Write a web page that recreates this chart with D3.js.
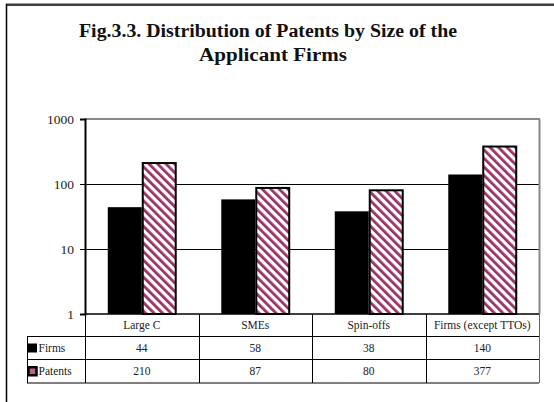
<!DOCTYPE html>
<html>
<head>
<meta charset="utf-8">
<script src="https://cdn.jsdelivr.net/npm/d3@7"></script>
<style>
body{margin:0;background:#fff;}
svg text{font-family:"Liberation Serif","DejaVu Serif",serif;}
</style>
</head>
<body>
<svg id="chart" width="554" height="402"></svg>
<script>
//values (they are also printed in the data table)
var categories = ["Large C", "SMEs", "Spin-offs", "Firms (except TTOs)"];
var seriesNames = ["Firms", "Patents"];
var firms = [44, 58, 38, 140];
var patents = [210, 87, 80, 377];
var yTicks = [1, 10, 100, 1000];

(function(){
var svg = d3.select("#chart");
var plum = "#993366";

//stripe pattern for the patents bars
var defs = svg.append("defs");
var pat = defs.append("pattern")
	.attr("id", "stripes")
	.attr("patternUnits", "userSpaceOnUse")
	.attr("width", 6).attr("height", 6)
	.attr("patternTransform", "rotate(-45)");
pat.append("rect").attr("width", 6).attr("height", 6).attr("fill", "#fff");
pat.append("rect").attr("x", 0).attr("width", 2.8).attr("height", 6).attr("fill", plum);

//frame of the chart object (cropped at right and bottom)
svg.append("line").attr("x1", 6).attr("x2", 554).attr("y1", 3.5).attr("y2", 3.5)
	.attr("stroke", "#999").attr("stroke-width", 1);
svg.append("line").attr("x1", 6).attr("x2", 554).attr("y1", 5).attr("y2", 5)
	.attr("stroke", "#000").attr("stroke-width", 1.5);
svg.append("line").attr("x1", 6.5).attr("x2", 6.5).attr("y1", 4).attr("y2", 402)
	.attr("stroke", "#000").attr("stroke-width", 1.5);

//title
var title = svg.append("text")
	.attr("text-anchor", "middle")
	.attr("font-weight", "bold")
	.attr("font-size", 18)
	.attr("fill", "#111");
title.append("tspan").attr("x", 268).attr("y", 37)
	.attr("textLength", 378).attr("lengthAdjust", "spacingAndGlyphs")
	.text("Fig.3.3. Distribution of Patents by Size of the");
title.append("tspan").attr("x", 273).attr("y", 61)
	.attr("textLength", 148).attr("lengthAdjust", "spacingAndGlyphs")
	.text("Applicant Firms");

var pLeft = 85, pRight = 539, pTop = 119, pBottom = 314;

var x = d3.scaleBand().domain(categories).range([pLeft, pRight]).paddingInner(0).paddingOuter(0);
var xs = d3.scaleBand().domain(seriesNames).range([0, x.bandwidth()]).paddingInner(0).paddingOuter(0.67);
var y = d3.scaleLog().domain([1, 1000]).range([pBottom, pTop]);

//gridlines
svg.append("g").selectAll("line")
	.data(yTicks.filter(function(d){ return d > 1 && d < 1000; }))
	.enter().append("line")
	.attr("x1", pLeft).attr("x2", pRight)
	.attr("y1", function(d){ return y(d) + 0.5; })
	.attr("y2", function(d){ return y(d) + 0.5; })
	.attr("stroke", "#000").attr("stroke-width", 1);

//plot area border top / right (grey)
svg.append("line").attr("x1", pLeft).attr("x2", pRight + 1).attr("y1", pTop).attr("y2", pTop)
	.attr("stroke", "#888").attr("stroke-width", 2);
svg.append("line").attr("x1", pRight + 0.5).attr("x2", pRight + 0.5).attr("y1", pTop).attr("y2", pBottom)
	.attr("stroke", "#888").attr("stroke-width", 2);

//bars
var groups = svg.append("g").selectAll("g")
	.data(categories)
	.enter().append("g")
	.attr("transform", function(d){ return "translate(" + x(d) + ",0)"; });

groups.append("rect")
	.attr("x", function(){ return xs("Firms"); })
	.attr("width", xs.bandwidth())
	.attr("y", function(d, i){ return y(firms[i]); })
	.attr("height", function(d, i){ return pBottom - y(firms[i]); })
	.attr("fill", "#000");

groups.append("rect")
	.attr("x", function(){ return xs("Patents") + 1; })
	.attr("width", xs.bandwidth() - 1)
	.attr("y", function(d, i){ return y(patents[i]); })
	.attr("height", function(d, i){ return pBottom - y(patents[i]); })
	.attr("fill", "url(#stripes)")
	.attr("stroke", "#000").attr("stroke-width", 2);

//y axis
var yAxis = d3.axisLeft(y).tickValues(yTicks).tickFormat(d3.format("d")).tickSize(5).tickPadding(6);
var ga = svg.append("g").attr("transform", "translate(" + pLeft + ",0)").call(yAxis);
ga.select(".domain").attr("stroke", "#000").attr("stroke-width", 2);
ga.selectAll(".tick line").attr("stroke", "#000");
ga.selectAll(".tick text")
	.attr("font-family", "Liberation Serif, serif")
	.attr("font-size", 13.5)
	.attr("fill", "#222");

//x axis line
svg.append("line").attr("x1", pLeft).attr("x2", pRight).attr("y1", pBottom).attr("y2", pBottom)
	.attr("stroke", "#000").attr("stroke-width", 1.5);

//data table
var rows = [pBottom, 336.5, 359.5, 383];
var keyLeft = 27;
var table = svg.append("g").attr("stroke", "#000").attr("stroke-width", 1);
table.append("line").attr("x1", keyLeft).attr("x2", pRight).attr("y1", rows[1]).attr("y2", rows[1]);
table.append("line").attr("x1", keyLeft).attr("x2", pRight).attr("y1", rows[2]).attr("y2", rows[2]);
table.append("line").attr("x1", keyLeft).attr("x2", pRight).attr("y1", rows[3]).attr("y2", rows[3]);
table.append("line").attr("x1", keyLeft + 0.5).attr("x2", keyLeft + 0.5).attr("y1", rows[1]).attr("y2", rows[3]);
table.selectAll(".col")
	.data(categories)
	.enter().append("line").attr("class", "col")
	.attr("x1", function(d){ return Math.round(x(d)) + 0.5; })
	.attr("x2", function(d){ return Math.round(x(d)) + 0.5; })
	.attr("y1", pBottom).attr("y2", rows[3]);
table.append("line").attr("x1", pRight + 0.5).attr("x2", pRight + 0.5).attr("y1", pBottom).attr("y2", rows[3])
	.attr("stroke", "#666");

var tFont = 11.5;
svg.append("g").selectAll("text")
	.data(categories)
	.enter().append("text")
	.attr("x", function(d){ return x(d) + x.bandwidth() / 2; })
	.attr("y", (rows[0] + rows[1]) / 2 + 4)
	.attr("text-anchor", "middle")
	.attr("font-size", tFont).attr("fill", "#222")
	.text(function(d){ return d; });

[firms, patents].forEach(function(vals, r){
	svg.append("g").selectAll("text")
		.data(vals)
		.enter().append("text")
		.attr("x", function(d, i){ return x(categories[i]) + x.bandwidth() / 2; })
		.attr("y", (rows[r + 1] + rows[r + 2]) / 2 + 4)
		.attr("text-anchor", "middle")
		.attr("font-size", tFont).attr("fill", "#222")
		.text(function(d){ return d; });

	var cy = (rows[r + 1] + rows[r + 2]) / 2;
	if(r === 0){
		svg.append("rect").attr("x", 28).attr("y", cy - 4.5).attr("width", 9).attr("height", 9).attr("fill", "#000");
	}else{
		svg.append("rect").attr("x", 28.5).attr("y", cy - 4).attr("width", 8).attr("height", 8)
			.attr("fill", "#c06090").attr("stroke", "#000").attr("stroke-width", 2.5);
	}
	svg.append("text").attr("x", 38.5).attr("y", cy + 4)
		.attr("font-size", tFont).attr("fill", "#222")
		.text(seriesNames[r]);
});
})();
</script>
</body>
</html>
